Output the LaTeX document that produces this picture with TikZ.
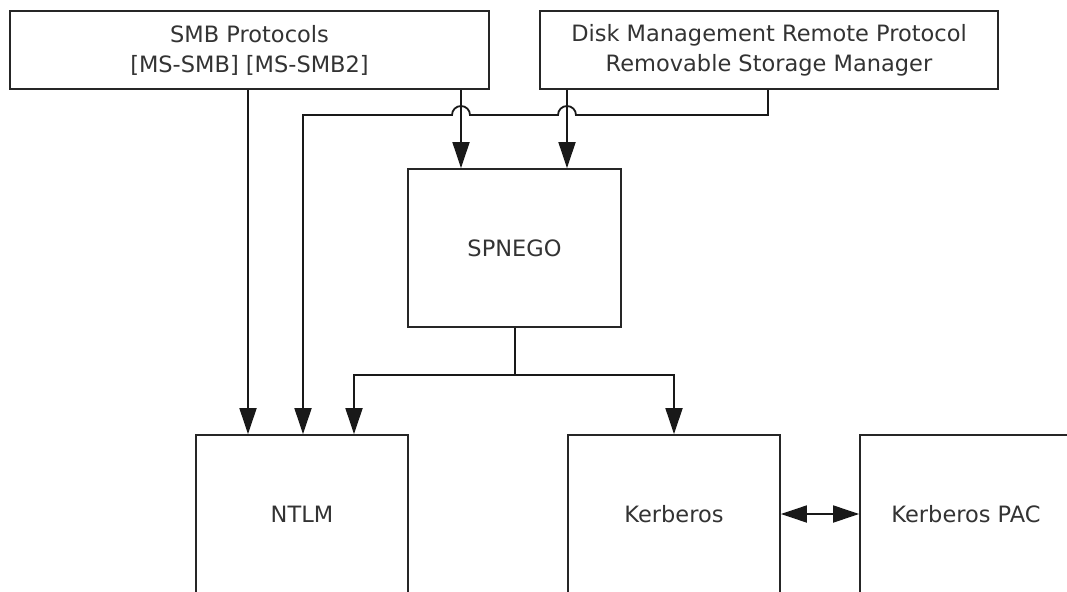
\documentclass[tikz,border=0pt]{standalone}
\usepackage{fontspec}
\setmainfont{DejaVu Sans}
\usetikzlibrary{arrows.meta}
\begin{document}
\begin{tikzpicture}[x=1pt,y=-1pt,
  box/.style={draw=black!85, line width=1.8pt, inner sep=0pt, align=center, text=black!80, font=\fontsize{22.5}{30}\selectfont},
  conn/.style={draw=black!90, line width=1.8pt},
  arr/.style={conn, -{Triangle[length=26pt,width=17pt]}},
  darr/.style={conn, {Triangle[length=26pt,width=17pt]}-{Triangle[length=26pt,width=17pt]}}]
\useasboundingbox (0,0) rectangle (1067,591);
\clip (0,0) rectangle (1067,591);
\node[box, minimum width=479pt, minimum height=78pt] (smb) at (249.5,50) {SMB Protocols\\{[MS-SMB] [MS-SMB2]}};
\node[box, minimum width=458pt, minimum height=78pt] (disk) at (769,50) {Disk Management Remote Protocol\\Removable Storage Manager};
\node[box, minimum width=213pt, minimum height=158pt] (spnego) at (514.5,248) {SPNEGO};
\node[box, minimum width=212pt, minimum height=158pt] (ntlm) at (302,514) {NTLM};
\node[box, minimum width=212pt, minimum height=158pt] (kerb) at (674,514) {Kerberos};
\node[box, minimum width=212pt, minimum height=158pt] (pac) at (966,514) {Kerberos PAC};
\coordinate (a) at (248,0);
\coordinate (b) at (461,0);
\coordinate (c) at (303,0);
\coordinate (d) at (567,0);
\coordinate (e) at (768,0);
\coordinate (f) at (354,0);
\coordinate (g) at (515,0);
\coordinate (hy) at (0,115);
\coordinate (sy) at (0,375);
\draw[arr] (smb.south -| a) -- (ntlm.north -| a);
\draw[arr] (smb.south -| b) -- (spnego.north -| b);
\draw[arr] (disk.south -| d) -- (spnego.north -| d);
\draw[arr] (disk.south -| e) -- (e |- hy) -- ([xshift=9pt]d |- hy) arc[start angle=0,end angle=-180,radius=9] -- ([xshift=9pt]b |- hy) arc[start angle=0,end angle=-180,radius=9] -- (c |- hy) -- (ntlm.north -| c);
\draw[conn] (spnego.south -| g) -- (g |- sy);
\draw[arr] (g |- sy) -| (ntlm.north -| f);
\draw[arr] (g |- sy) -| (kerb.north);
\draw[darr] (kerb.east) -- (pac.west);
\end{tikzpicture}
\end{document}
